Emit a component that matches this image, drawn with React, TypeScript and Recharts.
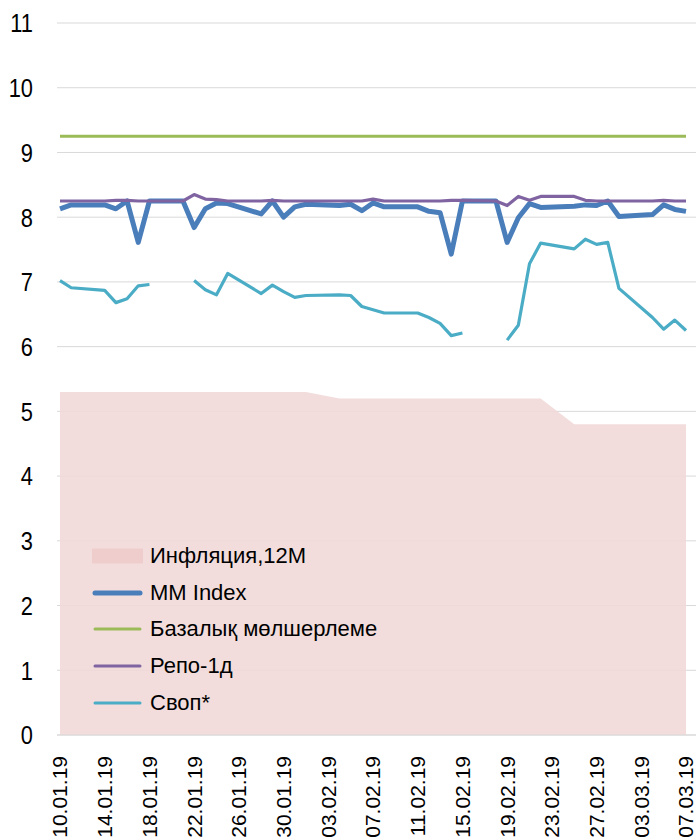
import {
  ComposedChart,
  Area,
  Line,
  XAxis,
  YAxis,
  CartesianGrid,
  Legend,
} from 'recharts'

// day offset from 10.01.19, working days only
const dayIdx = [0, 1, 4, 5, 6, 7, 8, 11, 12, 13, 14, 15, 18, 19, 20, 21, 22, 25, 26, 27, 28, 29, 32, 33, 34, 35, 36, 39, 40, 41, 42, 43, 46, 47, 48, 49, 50, 53, 54, 55, 56]

const tickLabels = ['10.01.19', '14.01.19', '18.01.19', '22.01.19', '26.01.19', '30.01.19', '03.02.19', '07.02.19', '11.02.19', '15.02.19', '19.02.19', '23.02.19', '27.02.19', '03.03.19', '07.03.19']

const inflation = [5.3, 5.3, 5.3, 5.3, 5.3, 5.3, 5.3, 5.3, 5.3, 5.3, 5.3, 5.3, 5.3, 5.3, 5.3, 5.3, 5.3, 5.2, 5.2, 5.2, 5.2, 5.2, 5.2, 5.2, 5.2, 5.2, 5.2, 5.2, 5.2, 5.2, 5.2, 5.2, 4.8, 4.8, 4.8, 4.8, 4.8, 4.8, 4.8, 4.8, 4.8]

const mmIndex = [8.13, 8.19, 8.19, 8.13, 8.25, 7.61, 8.25, 8.25, 7.84, 8.13, 8.22, 8.21, 8.05, 8.25, 8.0, 8.16, 8.2, 8.18, 8.2, 8.1, 8.22, 8.16, 8.16, 8.09, 8.07, 7.43, 8.25, 8.25, 7.61, 7.99, 8.21, 8.15, 8.17, 8.19, 8.18, 8.25, 8.01, 8.04, 8.19, 8.12, 8.09]

const baseRate = dayIdx.map(() => 9.25)

const repo = [8.25, 8.25, 8.25, 8.26, 8.26, 8.25, 8.25, 8.25, 8.35, 8.28, 8.27, 8.25, 8.25, 8.26, 8.25, 8.25, 8.25, 8.25, 8.25, 8.25, 8.28, 8.25, 8.25, 8.25, 8.25, 8.26, 8.26, 8.25, 8.18, 8.32, 8.26, 8.32, 8.32, 8.26, 8.25, 8.25, 8.25, 8.25, 8.26, 8.25, 8.25]

const swap = [7.02, 6.91, 6.87, 6.68, 6.74, 6.94, 6.96, null, 7.02, 6.88, 6.8, 7.13, 6.82, 6.95, 6.85, 6.76, 6.79, 6.8, 6.79, 6.62, 6.57, 6.52, 6.52, 6.45, 6.36, 6.17, 6.21, null, 6.1, 6.33, 7.28, 7.6, 7.51, 7.66, 7.58, 7.61, 6.9, 6.45, 6.27, 6.41, 6.25]

const yTicks = [0, 1, 2, 3, 4, 5, 6, 7, 8, 9, 10, 11]

const data = dayIdx.map((d, i) => ({
  d,
  infl: inflation[i],
  mm: mmIndex[i],
  base: baseRate[i],
  repo: repo[i],
  swap: swap[i],
}))

const legendItems = [
  { name: 'Инфляция,12М', color: '#efcdcd', kind: 'area', w: 0 },
  { name: 'MM Index', color: '#4a7ebb', kind: 'line', w: 5 },
  { name: 'Базалық мөлшерлеме', color: '#9bbb59', kind: 'line', w: 3 },
  { name: 'Репо-1д', color: '#8064a2', kind: 'line', w: 3 },
  { name: 'Своп*', color: '#4bacc6', kind: 'line', w: 3 },
]

function DateTick({ x, y, payload }: any) {
  const label = tickLabels[Math.round(payload.value / 4)] ?? ''
  return (
    <g transform={`translate(${x},${y + 13})`}>
      <text transform="rotate(-90)" textAnchor="end" dy="0.35em" fontSize={21} fill="#000">
        {label}
      </text>
    </g>
  )
}

// axis numbers in the source are a condensed face, so squeeze them a bit
function ValueTick({ x, y, payload }: any) {
  return (
    <text transform={`translate(${x},${y}) scale(0.84,1)`} textAnchor="end" dy="0.36em" fontSize={26} fill="#000">
      {payload.value}
    </text>
  )
}

function LegendBox() {
  return (
    <div>
      {legendItems.map((it) => (
        <div key={it.name} style={{ display: 'flex', alignItems: 'center', height: 36.8 }}>
          <svg width={51} height={20} style={{ marginRight: 7 }}>
            {it.kind === 'area' ? (
              <rect x={0} y={2.5} width={51} height={15} fill={it.color} />
            ) : (
              <line x1={3} y1={10} x2={48} y2={10} stroke={it.color} strokeWidth={it.w} strokeLinecap="round" />
            )}
          </svg>
          <span style={{ fontSize: 22, color: '#000', whiteSpace: 'nowrap' }}>{it.name}</span>
        </div>
      ))}
    </div>
  )
}

export default function App() {
  return (
    <div style={{ position: 'absolute', left: 0, top: 0, width: 696, height: 838, background: '#fff', fontFamily: '"Liberation Sans", Arial, sans-serif' }}>
      <ComposedChart width={696} height={838} data={data} margin={{ top: 23, right: 0, bottom: 0, left: 0 }}>
        <CartesianGrid vertical={false} stroke="#d9d9d9" strokeWidth={1} />
        <XAxis
          dataKey="d"
          type="number"
          domain={[0, 56]}
          ticks={tickLabels.map((_, i) => i * 4)}
          tick={<DateTick />}
          interval={0}
          tickLine={false}
          axisLine={{ stroke: '#d9d9d9' }}
          padding={{ left: 3, right: 10 }}
          height={103}
        />
        <YAxis
          domain={[0, 11]}
          ticks={yTicks}
          interval={0}
          tick={<ValueTick />}
          tickLine={false}
          axisLine={false}
          tickSize={0}
          tickMargin={24}
          width={57}
        />
        <Legend
          layout="vertical"
          align="center"
          verticalAlign="middle"
          wrapperStyle={{ left: 92, top: 537.5, width: 330 }}
          content={<LegendBox />}
        />
        <Area
          dataKey="infl"
          type="linear"
          fill="#f1d9d8"
          fillOpacity={0.9}
          stroke="none"
          isAnimationActive={false}
        />
        <Line dataKey="mm" type="linear" stroke="#4a7ebb" strokeWidth={5} dot={false} strokeLinejoin="round" isAnimationActive={false} />
        <Line dataKey="base" type="linear" stroke="#9bbb59" strokeWidth={3} dot={false} isAnimationActive={false} />
        <Line dataKey="repo" type="linear" stroke="#8064a2" strokeWidth={3.2} dot={false} strokeLinejoin="round" isAnimationActive={false} />
        <Line dataKey="swap" type="linear" stroke="#4bacc6" strokeWidth={3.2} dot={false} strokeLinejoin="round" isAnimationActive={false} />
      </ComposedChart>
    </div>
  )
}
